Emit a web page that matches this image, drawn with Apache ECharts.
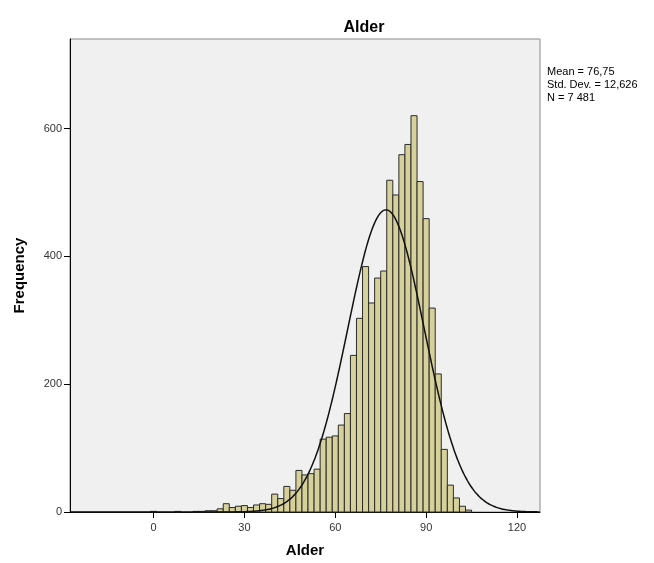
<!DOCTYPE html>
<html>
<head>
<meta charset="utf-8">
<script src="https://cdn.jsdelivr.net/npm/echarts@6/dist/echarts.min.js"></script>
<style>
  html, body { margin: 0; padding: 0; background: #fff; }
  #chart { width: 654px; height: 563px; }
</style>
</head>
<body>
<div id="chart"></div>
<script>
// bin centres (width 2) and counts
const binCenters = [0, 8, 14, 16, 18, 20, 22, 24, 26, 28, 30, 32, 34, 36, 38, 40, 42, 44, 46, 48,
  50, 52, 54, 56, 58, 60, 62, 64, 66, 68, 70, 72, 74, 76, 78, 80, 82, 84, 86, 88,
  90, 92, 94, 96, 98, 100, 102, 104]
const counts = [1, 1, 1, 1, 2, 2, 5, 13, 7, 9, 10, 7, 11, 13, 12, 28, 21, 40, 34, 65,
  58, 60, 67, 114, 117, 119, 136, 154, 245, 303, 384, 327, 366, 377, 519, 496, 559, 575, 620, 517,
  459, 319, 216, 98, 42, 22, 9, 3]
const BIN_WIDTH = 2

// summary statistics printed on the chart
const MEAN = 76.75
const SD = 12.626
const N = 7481

const xTicks = [0, 30, 60, 90, 120]
const yTicks = [0, 200, 400, 600]

const histData = binCenters.map((c, i) => [c, counts[i]])

// fitted normal curve scaled to the counts
const curveData = []
for (let x = -27.5; x <= 127.5; x += 0.5) {
  const z = (x - MEAN) / SD
  curveData.push([x, N * BIN_WIDTH / (SD * Math.sqrt(2 * Math.PI)) * Math.exp(-0.5 * z * z)])
}

const chart = echarts.init(document.getElementById('chart'))
const font = 'Liberation Sans, Arial, sans-serif'

chart.setOption({
  backgroundColor: '#fff',
  animation: false,
  title: [
    {
      text: 'Alder',
      left: 359,
      top: 15,
      textAlign: 'center',
      textStyle: { fontFamily: font, fontSize: 16, fontWeight: 'bold', color: '#000' }
    },
    {
      text: 'Mean = 76,75\nStd. Dev. = 12,626\nN = 7 481',
      left: 547,
      top: 65,
      padding: [0, 0, 0, 0],
      textStyle: { fontFamily: font, fontSize: 11, fontWeight: 'normal', color: '#000', lineHeight: 13 }
    }
  ],
  grid: {
    left: 70,
    right: 114,
    top: 39,
    bottom: 49,
    show: true,
    backgroundColor: '#f0f0f0',
    borderColor: '#8a8a8a',
    borderWidth: 1
  },
  xAxis: {
    type: 'value',
    min: -27.6,
    max: 127.6,
    name: 'Alder',
    nameLocation: 'middle',
    nameGap: 31,
    nameTextStyle: { fontFamily: font, fontSize: 15, fontWeight: 'bold', color: '#000' },
    axisLine: { onZero: false, lineStyle: { color: '#000', width: 1 } },
    axisTick: { customValues: xTicks, length: 6, lineStyle: { color: '#000' } },
    axisLabel: { customValues: xTicks, margin: 10, fontFamily: font, fontSize: 11, color: '#333' },
    splitLine: { show: false }
  },
  yAxis: {
    type: 'value',
    min: 0,
    max: 740,
    name: 'Frequency',
    nameLocation: 'middle',
    nameRotate: 90,
    nameGap: 43,
    nameTextStyle: { fontFamily: font, fontSize: 15, fontWeight: 'bold', color: '#000' },
    axisLine: { show: true, onZero: false, lineStyle: { color: '#000', width: 1 } },
    axisTick: { show: true, customValues: yTicks, length: 6, lineStyle: { color: '#000' } },
    axisLabel: { customValues: yTicks, margin: 8, fontFamily: font, fontSize: 11, color: '#333' },
    splitLine: { show: false }
  },
  series: [
    {
      type: 'custom',
      data: histData,
      renderItem(params, api) {
        const c = api.value(0)
        const v = api.value(1)
        const p0 = api.coord([c - BIN_WIDTH / 2, v])
        const p1 = api.coord([c + BIN_WIDTH / 2, 0])
        return {
          type: 'rect',
          shape: { x: p0[0], y: p0[1], width: p1[0] - p0[0], height: p1[1] - p0[1] },
          style: { fill: '#d6d09a', stroke: '#2b2b2b', lineWidth: 1 }
        }
      },
      z: 2
    },
    {
      type: 'line',
      data: curveData,
      showSymbol: false,
      smooth: true,
      lineStyle: { color: '#111', width: 1.5 },
      z: 3
    }
  ]
})
</script>
</body>
</html>
